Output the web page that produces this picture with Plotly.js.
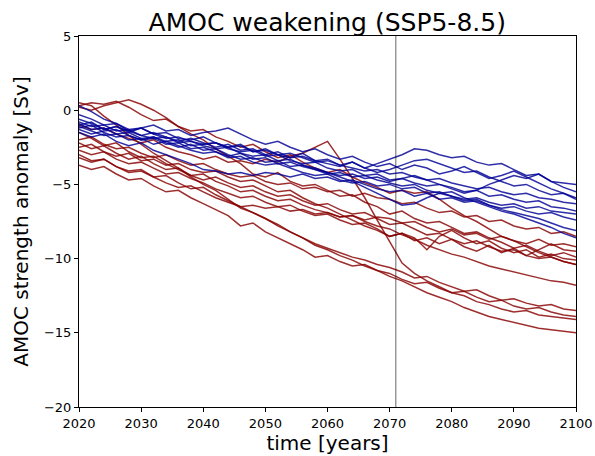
<!DOCTYPE html>
<html>
<head>
<meta charset="utf-8">
<script src="https://cdn.plot.ly/plotly-3.0.1.min.js"></script>
<style>html,body{margin:0;padding:0;background:#fff;}#chart{width:595px;height:456px;}</style>
</head>
<body>
<div id="chart"></div>
<script>
// years (every 2 years, 2020-2100)
const years = [];
for (let y = 2020; y <= 2100; y += 2) years.push(y);

const markerYear = 2071;

// Blue ensemble members (AMOC anomaly, Sv)
const blue1 = [-0.3,-0.6,-1.0,-0.9,-1.4,-1.2,-1.6,-1.5,-1.9,-2.0, -1.8,-2.2,-2.5,-2.3,-2.8,-2.6,-3.0,-3.2,-2.9,-3.4, -3.3,-3.7,-3.5,-3.9,-3.6,-3.3,-3.0,-2.6,-2.7,-3.0, -3.2,-3.1,-3.5,-3.7,-3.6,-4.0,-4.4,-4.3,-4.8,-4.9,-5.0];
const blue2 = [-1.0,-0.8,-1.3,-1.1,-1.5,-1.2,-1.0,-1.4,-1.3,-1.7, -1.5,-1.4,-1.2,-1.6,-2.0,-2.3,-2.1,-2.5,-2.8,-2.6, -3.0,-3.3,-3.1,-3.5,-3.8,-3.6,-4.0,-3.7,-3.9,-4.3, -4.1,-3.8,-4.2,-4.6,-4.4,-4.1,-4.5,-4.9,-5.3,-5.6,-5.9];
const blue3 = [-1.5,-1.8,-1.6,-2.1,-2.4,-2.2,-2.7,-3.0,-3.3,-3.6, -4.0,-4.1,-4.3,-4.2,-4.4,-4.2,-4.3,-4.5,-4.3,-4.6, -4.5,-4.8,-4.7,-5.0,-5.3,-5.5,-5.4,-5.8,-5.6,-6.0, -5.9,-6.2,-6.1,-6.4,-6.6,-6.5,-6.8,-7.0,-6.9,-7.2,-7.4];
const blue4 = [-0.8,-1.1,-1.0,-1.4,-1.3,-1.7,-1.9,-1.8,-2.2,-2.1, -2.4,-2.6,-2.5,-2.9,-3.1,-3.0,-3.4,-3.3,-3.7,-3.9, -4.2,-4.5,-4.8,-5.2,-5.6,-6.0,-6.4,-6.3,-5.9,-5.6, -5.8,-6.1,-6.0,-6.4,-6.7,-6.9,-7.1,-7.3,-7.6,-7.9,-8.1];
const blue5 = [-1.2,-1.0,-1.5,-1.8,-1.7,-2.0,-1.9,-2.3,-2.2,-2.6, -2.5,-2.8,-3.1,-2.9,-3.3,-3.2,-3.6,-3.5,-3.8,-4.0, -4.3,-4.2,-4.5,-4.4,-4.7,-4.9,-5.1,-5.0,-5.4,-5.6, -5.5,-5.9,-6.2,-6.5,-6.8,-7.0,-7.3,-7.6,-7.9,-8.3,-8.6];
const blue6 = [-0.9,-1.3,-1.2,-1.6,-1.5,-1.9,-1.8,-2.1,-2.0,-2.4, -2.3,-2.2,-2.6,-2.8,-2.7,-3.1,-3.0,-3.4,-3.6,-3.5, -3.9,-4.1,-4.0,-4.4,-4.3,-4.7,-4.6,-4.9,-5.1,-5.0, -5.3,-5.6,-5.4,-5.0,-4.7,-4.4,-4.6,-4.3,-4.8,-5.2,-5.5];
const blue7 = [0.3,-0.1,-0.6,-0.9,-1.3,-1.2,-1.6,-1.9,-1.8,-2.1, -2.3,-2.2,-2.5,-2.4,-2.8,-2.7,-3.0,-2.9,-3.2,-3.5, -3.4,-3.7,-3.9,-4.1,-4.0,-4.3,-4.2,-4.5,-4.7,-4.6, -4.9,-5.1,-5.3,-5.2,-5.5,-5.7,-5.6,-5.9,-6.0,-6.2,-6.3];
const blue8 = [-1.3,-1.6,-1.4,-1.3,-1.7,-2.0,-1.8,-2.2,-2.5,-2.3, -2.7,-2.6,-3.0,-3.3,-3.2,-3.5,-3.4,-3.8,-3.7,-4.0, -4.2,-4.4,-4.3,-4.6,-4.5,-4.8,-4.6,-4.4,-4.7,-5.0, -5.2,-5.5,-5.4,-5.8,-5.7,-6.0,-6.2,-6.1,-6.5,-6.6,-6.8];
const blue9 = [-0.6,-0.9,-1.3,-1.1,-1.4,-1.7,-1.5,-1.8,-2.1,-1.9, -2.2,-2.5,-2.3,-2.7,-2.6,-3.0,-2.8,-3.2,-3.1,-3.4, -3.6,-3.8,-3.5,-3.9,-4.2,-4.0,-3.7,-3.4,-3.3,-3.6, -3.9,-4.2,-4.1,-4.5,-4.8,-5.1,-5.0,-5.4,-5.7,-5.6,-6.0];
const blue10 = [-1.1,-1.4,-1.7,-1.6,-2.0,-1.9,-2.3,-2.1,-2.4,-2.7, -2.9,-2.8,-3.2,-3.1,-3.5,-3.7,-3.6,-3.9,-4.2,-4.4, -4.3,-4.7,-4.9,-4.8,-5.1,-5.0,-5.3,-5.2,-5.6,-5.5, -5.8,-6.0,-5.9,-6.2,-6.4,-6.3,-6.6,-6.5,-6.8,-6.9,-7.0];

// Red ensemble members (AMOC anomaly, Sv)
const red1 = [0.3,0.5,0.4,0.6,0.2,-0.3,-0.7,-0.6,-1.1,-1.4, -1.3,-1.8,-2.1,-2.5,-2.3,-2.8,-3.2,-3.0,-3.5,-3.9, -4.2,-4.0,-4.5,-4.9,-5.2,-5.6,-5.4,-5.6,-5.5,-6.0, -6.6,-7.1,-7.5,-8.0,-8.5,-8.8,-9.2,-9.6,-9.9,-10.2,-10.4];
const red2 = [0.2,0.0,0.3,0.5,0.7,0.4,0.0,-0.5,-1.1,-1.6, -2.0,-2.6,-3.1,-3.6,-4.3,-4.5,-4.2,-4.8,-5.1,-5.0, -5.4,-5.8,-5.7,-6.2,-6.5,-7.0,-6.8,-7.3,-7.6,-7.5, -7.9,-8.3,-8.2,-8.6,-8.9,-9.3,-9.1,-9.5,-9.8,-9.6,-9.9];
const red3 = [-1.0,-1.3,-1.2,-1.6,-1.9,-2.2,-2.0,-2.5,-2.8,-3.0, -3.3,-3.1,-3.5,-3.4,-3.6,-3.3,-3.5,-3.1,-2.9,-2.5, -2.1,-3.3,-4.6,-5.9,-7.4,-8.9,-10.3,-11.0,-11.5,-11.9, -12.3,-12.5,-12.9,-13.1,-13.4,-13.6,-13.5,-13.8,-13.9,-14.0,-14.1];
const red4 = [-2.2,-2.6,-2.4,-2.9,-3.3,-3.1,-3.6,-4.0,-3.9,-4.4, -4.7,-4.5,-4.9,-5.2,-5.1,-5.5,-5.8,-5.7,-6.1,-6.4, -6.3,-6.7,-7.0,-6.9,-7.3,-7.7,-7.6,-8.0,-8.4,-8.3, -8.7,-9.0,-8.8,-9.2,-9.5,-9.4,-9.8,-10.0,-9.9,-10.2,-10.4];
const red5 = [-2.5,-2.3,-2.8,-3.1,-2.9,-3.4,-3.3,-3.7,-3.6,-4.0, -4.2,-4.1,-4.5,-4.8,-4.7,-5.1,-5.5,-5.4,-5.9,-6.3, -6.6,-7.0,-7.4,-7.8,-8.1,-8.5,-8.3,-8.6,-9.4,-8.5, -8.1,-8.6,-9.0,-8.8,-9.3,-9.6,-9.4,-9.9,-9.7,-10.0,-10.1];
const red6 = [-2.7,-3.0,-2.8,-3.3,-3.6,-3.5,-3.9,-4.3,-4.2,-4.6, -4.9,-5.3,-5.6,-5.9,-5.8,-6.2,-6.5,-6.4,-6.8,-7.1, -7.0,-7.4,-7.7,-7.6,-8.0,-8.5,-8.3,-8.8,-8.6,-9.0, -8.7,-9.2,-9.5,-9.1,-9.6,-9.3,-9.8,-9.4,-9.0,-9.4,-9.5];
const red7 = [-3.0,-3.4,-3.3,-3.8,-4.2,-4.1,-4.5,-4.9,-5.2,-5.1, -5.5,-5.9,-6.2,-6.5,-6.4,-6.6,-6.5,-6.8,-6.7,-7.0, -6.9,-7.2,-7.1,-7.4,-7.2,-7.3,-7.6,-7.5,-7.9,-8.2, -8.0,-8.4,-8.3,-8.7,-8.5,-8.8,-9.0,-8.7,-9.1,-9.0,-9.2];
const red8 = [-1.5,-1.9,-2.4,-2.2,-2.8,-3.2,-3.1,-3.6,-4.0,-4.4, -4.3,-4.8,-5.1,-5.5,-5.4,-5.8,-6.1,-6.0,-6.4,-6.7, -6.9,-7.2,-7.1,-7.5,-7.8,-8.0,-8.4,-8.7,-9.1,-9.4, -9.7,-9.9,-10.2,-10.5,-10.7,-10.9,-11.1,-11.3,-11.5,-11.6,-11.8];
const red9 = [-3.7,-4.0,-3.8,-4.3,-4.7,-4.6,-5.1,-5.5,-5.4,-5.9, -6.3,-6.7,-7.1,-7.8,-7.6,-8.2,-8.6,-9.0,-9.4,-9.9, -9.8,-10.2,-10.5,-10.4,-10.8,-11.2,-11.5,-11.9,-12.3,-12.6, -12.9,-13.3,-13.6,-13.9,-14.1,-14.3,-14.5,-14.7,-14.8,-14.9,-15.0];
const red10 = [0.5,0.3,-0.4,-1.0,-1.7,-2.3,-2.9,-3.4,-3.9,-4.5, -5.0,-5.4,-6.0,-6.6,-6.9,-7.3,-7.8,-8.2,-8.6,-9.1, -9.4,-9.8,-10.1,-10.5,-10.8,-11.0,-11.4,-11.7,-11.6,-12.0, -12.3,-12.2,-12.6,-12.9,-12.8,-13.2,-13.4,-13.3,-13.6,-13.8,-13.9];
const red11 = [-3.2,-3.5,-3.3,-3.8,-4.1,-4.0,-4.5,-4.4,-4.9,-5.3, -5.2,-5.7,-6.1,-6.5,-6.9,-7.3,-7.7,-8.2,-8.6,-9.0, -9.3,-9.6,-9.9,-10.1,-10.4,-10.6,-10.9,-11.3,-11.2,-11.6, -11.9,-12.2,-12.1,-12.5,-12.8,-12.7,-13.0,-13.2,-13.1,-13.4,-13.5];
const red12 = [-2.0,-1.8,-2.3,-2.6,-2.5,-2.9,-3.2,-3.0,-3.4,-3.7, -3.6,-4.0,-4.3,-4.5,-4.4,-4.8,-5.0,-4.9,-5.3,-5.2, -5.5,-5.4,-5.8,-5.6,-5.9,-6.0,-6.3,-6.2,-6.6,-6.9, -6.8,-7.2,-7.1,-7.5,-7.4,-7.8,-8.0,-7.9,-8.3,-8.2,-8.5];

const blueSeries = [blue1, blue2, blue3, blue4, blue5, blue6, blue7, blue8, blue9, blue10];
const redSeries = [red1, red2, red3, red4, red5, red6, red7, red8, red9, red10, red11, red12];

const xTicks = [2020, 2030, 2040, 2050, 2060, 2070, 2080, 2090, 2100];
const yTicks = [-20, -15, -10, -5, 0, 5];

const blueColor = 'rgba(0,0,150,0.82)';
const redColor = 'rgba(135,0,0,0.82)';

const traces = [];
redSeries.forEach(s => traces.push({x: years, y: s, type: 'scatter', mode: 'lines', line: {color: redColor, width: 1.5}, hoverinfo: 'skip'}));
blueSeries.forEach(s => traces.push({x: years, y: s, type: 'scatter', mode: 'lines', line: {color: blueColor, width: 1.5}, hoverinfo: 'skip'}));

const font = 'DejaVu Sans, sans-serif';
const layout = {
  width: 595, height: 456,
  margin: {l: 79, r: 19, t: 36, b: 49},
  paper_bgcolor: '#fff', plot_bgcolor: '#fff',
  showlegend: false,
  font: {family: font, color: '#000', size: 13},
  title: {text: 'AMOC weakening (SSP5-8.5)', font: {family: font, size: 25, color: '#000'}, x: 0.55, xanchor: 'center', y: 0.952, yanchor: 'middle', xref: 'container', yref: 'container'},
  xaxis: {
    range: [2020, 2100], tickvals: xTicks, ticktext: xTicks.map(String),
    showgrid: false, zeroline: false, showline: true, mirror: true, linecolor: '#000', linewidth: 1,
    ticks: 'outside', ticklen: 4, tickcolor: '#000', tickfont: {family: font, size: 13},
    title: {text: 'time [years]', font: {family: font, size: 20}, standoff: 5}
  },
  yaxis: {
    range: [-20, 5], tickvals: yTicks,
    showgrid: false, zeroline: false, showline: true, mirror: true, linecolor: '#000', linewidth: 1,
    ticks: 'outside', ticklen: 4, tickcolor: '#000', tickfont: {family: font, size: 13},
    title: {text: 'AMOC strength anomaly [Sv]', font: {family: font, size: 20}, standoff: 9}
  },
  shapes: [{type: 'line', xref: 'x', yref: 'paper', x0: markerYear, x1: markerYear, y0: 0, y1: 1, line: {color: 'rgba(0,0,0,0.6)', width: 1}}]
};

Plotly.newPlot('chart', traces, layout, {displayModeBar: false, staticPlot: true});
</script>
</body>
</html>
